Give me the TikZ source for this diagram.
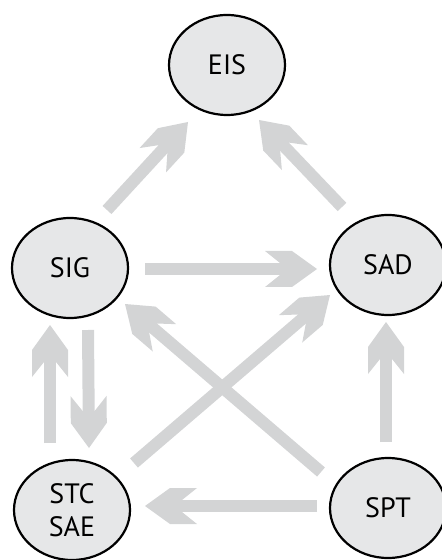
\documentclass[tikz,border=0pt]{standalone}
\usepackage{fontspec}
\setsansfont{PT Sans}
\usepackage{tikz}
\usepackage{xcolor}
\usetikzlibrary{shapes,backgrounds}

\definecolor{nodefill}{RGB}{230,231,232}
\definecolor{flowgray}{RGB}{211,212,213}

% wide arrow head with swept back barbs
\pgfdeclarearrow{
  name = BigHead,
  setup code = {
    \pgfarrowssettipend{0pt}
    \pgfarrowssetlineend{-17pt}
    \pgfarrowssetbackend{-26pt}
    \pgfarrowssetvisualbackend{-18.5pt}
  },
  drawing code = {
    \pgfpathmoveto{\pgfqpoint{0pt}{0pt}}
    \pgfpathlineto{\pgfqpoint{-12.5pt}{9pt}}
    \pgfpathlineto{\pgfqpoint{-26pt}{9pt}}
    \pgfpathlineto{\pgfqpoint{-18.5pt}{3pt}}
    \pgfpathlineto{\pgfqpoint{-18.5pt}{-3pt}}
    \pgfpathlineto{\pgfqpoint{-26pt}{-9pt}}
    \pgfpathlineto{\pgfqpoint{-12.5pt}{-9pt}}
    \pgfpathclose
    \pgfusepathqfill
  }
}

\begin{document}
\begin{tikzpicture}[x=0.5pt,y=-0.5pt,
                    main node/.style={ellipse,draw,line width=1.1pt,fill=nodefill,
                      minimum width=58pt,minimum height=50pt,inner sep=0pt,align=center,
                      font=\sffamily\fontsize{14pt}{16.5pt}\selectfont},
                    flow/.style={line width=6pt,color=flowgray,-BigHead}]

  \useasboundingbox (0,0) rectangle (442,560);

  \node[main node] (EIS) at (227,65) {EIS};
  \node[main node] (SIG) at (70,268) {SIG};
  \node[main node] (SAD) at (388,265) {SAD};
  \node[main node] (STC) at (72,510) {STC\\SAE};
  \node[main node] (SPT) at (388,508) {SPT};

  \draw[flow] ([shift={(37,-58)}]SIG.center) -- ([shift={(-39,57)}]EIS.center);
  \draw[flow] ([shift={(-46,-58)}]SAD.center) -- ([shift={(32,55)}]EIS.center);
  \draw[flow] ([shift={(75,1)}]SIG.center) -- ([shift={(-71,4)}]SAD.center);
  \draw[flow] ([shift={(18,62)}]SIG.center) -- ([shift={(17,-62)}]STC.center);
  \draw[flow] ([shift={(-22,-67)}]STC.center) -- ([shift={(-20,57)}]SIG.center);
  \draw[flow] ([shift={(62,-47)}]STC.center) -- ([shift={(-58,30)}]SAD.center);
  \draw[flow] ([shift={(-67,-36)}]SPT.center) -- ([shift={(55,36)}]SIG.center);
  \draw[flow] ([shift={(-2,-66)}]SPT.center) -- ([shift={(-2,57)}]SAD.center);
  \draw[flow] ([shift={(-71,-2)}]SPT.center) -- ([shift={(73,-4)}]STC.center);
\end{tikzpicture}
\end{document}
